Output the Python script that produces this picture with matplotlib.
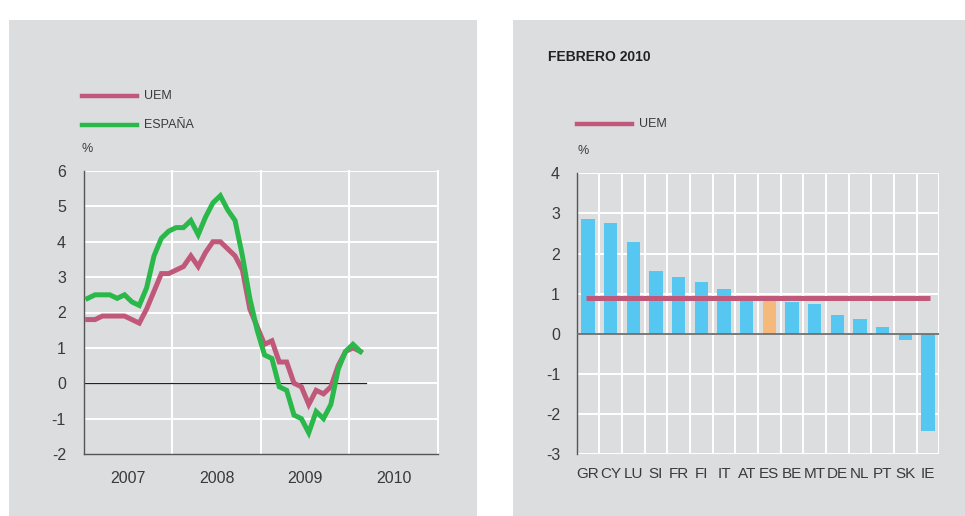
import matplotlib
matplotlib.use("Agg")
import matplotlib.pyplot as plt
from matplotlib.patches import Rectangle
import numpy as np

plt.rcParams['font.family'] = ['Liberation Sans', 'DejaVu Sans']

# ---------------- data ----------------
years = ['2007', '2008', '2009', '2010']
uem = [1.8, 1.8, 1.9, 1.9, 1.9, 1.9, 1.8, 1.7, 2.1, 2.6, 3.1, 3.1,
       3.2, 3.3, 3.6, 3.3, 3.7, 4.0, 4.0, 3.8, 3.6, 3.2, 2.1, 1.6,
       1.1, 1.2, 0.6, 0.6, 0.0, -0.1, -0.6, -0.2, -0.3, -0.1, 0.5, 0.9,
       1.0, 0.9]
espana = [2.4, 2.5, 2.5, 2.5, 2.4, 2.5, 2.3, 2.2, 2.7, 3.6, 4.1, 4.3,
          4.4, 4.4, 4.6, 4.2, 4.7, 5.1, 5.3, 4.9, 4.6, 3.6, 2.4, 1.5,
          0.8, 0.7, -0.1, -0.2, -0.9, -1.0, -1.4, -0.8, -1.0, -0.6, 0.4, 0.9,
          1.1, 0.9]
countries = ['GR', 'CY', 'LU', 'SI', 'FR', 'FI', 'IT', 'AT', 'ES', 'BE',
             'MT', 'DE', 'NL', 'PT', 'SK', 'IE']
country_values = [2.86, 2.77, 2.29, 1.56, 1.41, 1.28, 1.11, 0.88, 0.88, 0.80,
                  0.74, 0.47, 0.37, 0.17, -0.16, -2.42]
uem_feb2010 = 0.9
title_right = 'FEBRERO 2010'

# ---------------- style ----------------
W, H = 965, 516
BG = '#dcdddf'
PINK = '#c0587a'
GREEN = '#2bb84b'
BLUE = '#55c7f1'
ORANGE = '#f6b97c'
TXT = '#3a3a3a'
SPINE = '#555555'

fig = plt.figure(figsize=(W / 100, H / 100), dpi=100)
fig.patch.set_facecolor('white')


def fx(px):
    return px / W


def fy(py):
    return 1 - py / H


# panel backgrounds
fig.patches.append(Rectangle((fx(9), fy(516)), fx(468), (516 - 20) / H,
                             transform=fig.transFigure, facecolor=BG, edgecolor='none', zorder=-5))
fig.patches.append(Rectangle((fx(513), fy(516)), fx(452), (516 - 20) / H,
                             transform=fig.transFigure, facecolor=BG, edgecolor='none', zorder=-5))


def make_axes(x0, x1, ytop, ybot):
    ax = fig.add_axes([fx(x0), fy(ybot), fx(x1 - x0), (ybot - ytop) / H])
    ax.set_facecolor(BG)
    ax.set_zorder(1)
    for s in ['top', 'right']:
        ax.spines[s].set_visible(False)
    ax.spines['left'].set_color(SPINE)
    ax.spines['bottom'].set_color(SPINE)
    ax.spines['left'].set_linewidth(1.0)
    ax.spines['bottom'].set_linewidth(1.0)
    return ax


# ---------------- left chart ----------------
axL = make_axes(84, 437.7, 171, 454)
n = len(uem)
xm = np.arange(n) + 0.5
axL.set_xlim(0, 48)
axL.set_ylim(-2, 6)
for yv in range(-1, 7):
    axL.axhline(yv, color='white', lw=1.4, zorder=1)
for xv in [12, 24, 36, 48]:
    axL.axvline(xv, color='white', lw=1.4, zorder=1, clip_on=False)
axL.plot([0, 38.3], [0, 0], color='#222222', lw=0.9, zorder=2)
axL.plot(xm, uem, color=PINK, lw=3.6, zorder=3, solid_joinstyle='miter')
axL.plot(xm, espana, color=GREEN, lw=3.6, zorder=4, solid_joinstyle='miter')
axL.set_yticks(range(-2, 7))
axL.set_yticklabels([str(v) for v in range(-2, 7)])
axL.set_xticks([6, 18, 30, 42])
axL.set_xticklabels(years)
axL.tick_params(axis='y', length=0, pad=13, labelsize=11.5, labelcolor=TXT)
axL.tick_params(axis='x', length=0, pad=12, labelsize=11.5, labelcolor=TXT)

# left legend
fig.add_artist(plt.Line2D([fx(82), fx(137)], [fy(96), fy(96)], color=PINK, lw=3.2,
                          transform=fig.transFigure))
fig.text(fx(144), fy(96), 'UEM', fontsize=9, color=TXT, va='center', ha='left')
fig.add_artist(plt.Line2D([fx(82), fx(137)], [fy(124.5), fy(124.5)], color=GREEN, lw=3.2,
                          transform=fig.transFigure))
fig.text(fx(144), fy(124.5), 'ESPAÑA', fontsize=9, color=TXT, va='center', ha='left')
fig.text(fx(82), fy(149), '%', fontsize=9, color=TXT, va='center', ha='left')

# ---------------- right chart ----------------
axR = make_axes(576.7, 939.3, 173.3, 454)
xc = np.arange(len(countries))
axR.set_xlim(-0.5, len(countries) - 0.5)
axR.set_ylim(-3, 4)
for yv in range(-3, 5):
    axR.axhline(yv, color='white', lw=1.4, zorder=1)
for xv in np.arange(len(countries)) + 0.5:
    axR.axvline(xv, color='white', lw=1.4, zorder=1)
colors = [ORANGE if c == 'ES' else BLUE for c in countries]
axR.bar(xc, country_values, width=0.59, color=colors, zorder=2)
axR.axhline(0, color='#6e6e6e', lw=1.3, zorder=3)
axR.plot([xc[0] - 0.09, xc[-1] + 0.09], [uem_feb2010, uem_feb2010], color=PINK, lw=3.6,
         zorder=4, solid_capstyle='butt')
axR.set_yticks(range(-3, 5))
axR.set_yticklabels([str(v) for v in range(-3, 5)])
axR.set_xticks(xc)
axR.set_xticklabels(countries)
axR.tick_params(axis='y', length=0, pad=12, labelsize=11.5, labelcolor=TXT)
axR.tick_params(axis='x', length=0, pad=9, labelsize=11, labelcolor=TXT)
axR.spines['bottom'].set_visible(False)

fig.text(fx(548), fy(57), title_right, fontsize=10, fontweight='bold', color='#222222',
         va='center', ha='left')
fig.add_artist(plt.Line2D([fx(577), fx(632)], [fy(124), fy(124)], color=PINK, lw=3.2,
                          transform=fig.transFigure))
fig.text(fx(639), fy(124), 'UEM', fontsize=9, color=TXT, va='center', ha='left')
fig.text(fx(577), fy(151), '%', fontsize=9, color=TXT, va='center', ha='left')

fig.savefig('out.png', dpi=100, facecolor='white')
